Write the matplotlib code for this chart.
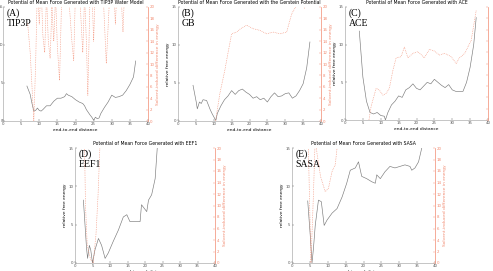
import matplotlib
matplotlib.use("Agg")
import matplotlib.pyplot as plt

# PMF curves (gray, left axis) and solvent-induced energy (red dotted, right axis)
a_x = [6.6, 7.5, 8.0, 8.5, 9.0, 9.5, 10.0, 10.5, 11.0, 12.0, 13.0, 14.0, 15.0, 16.0, 17.0, 17.5,
       18.0, 19.0, 20.0, 21.0, 22.0, 22.5, 23.0, 24.0, 24.5, 25.0, 25.5, 26.0, 26.5, 27.0, 28.0,
       29.0, 30.0, 31.0, 32.0, 33.0, 34.0, 35.0, 36.0, 36.6]
a_y = [4.6, 3.5, 2.3, 1.3, 1.4, 1.7, 1.4, 1.3, 1.5, 2.0, 2.0, 2.6, 3.0, 3.0, 3.2, 3.6,
       3.4, 3.2, 2.8, 2.5, 2.3, 2.0, 1.5, 0.8, 0.5, 0.1, 0.5, 0.3, 0.4, 1.0, 1.8,
       2.5, 3.4, 3.1, 3.2, 3.4, 4.0, 4.8, 5.8, 7.9]
a_rx = [6.8, 7.5, 8.0, 8.5, 9.0, 9.5, 10.0, 10.5, 11.0, 11.5, 12.0, 12.5, 13.0, 13.5, 14.0, 14.5,
        15.0, 15.6, 16.2, 17.0, 18.0, 19.0, 19.5, 20.0, 21.0, 22.0, 22.5, 23.0, 23.4, 24.0, 24.5,
        25.0, 25.5, 26.5, 27.5, 28.5, 29.5, 30.5, 31.0, 31.5, 32.5, 33.1, 33.6, 34.0]
a_ry = [17.1, 12, 6, 0, 10, 24, 17, 24, 15, 12, 22, 14, 11, 20, 14, 22,
        13, 7.1, 22, 24, 23, 14, 10.6, 23, 24, 12, 22, 14, 4.5, 22, 24,
        14, 24, 23, 24, 10.1, 23, 24, 17, 24, 23, 15.6, 24, 22]

b_x = [4.2, 5.1, 5.4, 6.0, 6.5, 7.0, 8.0, 9.0, 9.5, 10.3, 10.6, 11.0, 12.0, 13.0, 14.0, 15.0,
       16.0, 17.0, 18.0, 19.0, 20.0, 21.0, 22.0, 23.0, 24.0, 25.0, 26.0, 27.0, 28.0, 29.0,
       30.0, 31.0, 32.0, 33.0, 34.0, 35.0, 36.0, 36.9]
b_y = [4.7, 2.5, 1.6, 2.5, 2.3, 2.8, 2.7, 1.5, 1.0, 0.3, 0.1, 1.0, 2.0, 2.8, 3.3, 4.0,
       3.5, 4.0, 4.2, 3.8, 3.5, 3.0, 3.2, 2.8, 3.0, 2.5, 3.2, 3.7, 3.2, 3.3,
       3.6, 3.7, 3.0, 3.3, 4.0, 4.9, 7.0, 10.4]
b_rx = [10.5, 11.7, 13.1, 14.0, 15.0, 16.4, 17.5, 19.2, 21.0, 22.9, 24.8, 26.6, 28.5, 30.4,
        31.8, 33.2, 34.5, 35.5]
b_ry = [0.0, 4.8, 8.9, 12.0, 15.3, 15.6, 16.2, 16.8, 16.2, 15.9, 15.3, 15.6, 15.3, 15.6,
        18.8, 20.3, 21.0, 19.6]

c_x = [4.0, 5.0, 6.0, 7.0, 8.0, 9.0, 10.0, 11.0, 11.3, 12.0, 13.0, 14.0, 15.0, 16.0, 17.0,
       18.0, 19.0, 20.0, 21.0, 22.0, 23.0, 24.0, 25.0, 26.0, 27.0, 28.0, 29.0, 30.0, 31.0,
       32.0, 33.0, 34.0, 35.0, 36.0, 36.7]
c_y = [11.8, 5.7, 2.5, 1.0, 0.8, 1.0, 0.6, 0.5, 0.0, 1.0, 2.0, 2.5, 3.2, 3.0, 4.0,
       4.3, 4.8, 4.2, 4.0, 4.5, 5.0, 4.8, 5.4, 5.0, 4.6, 4.3, 4.7, 4.0, 3.8,
       3.8, 3.8, 5.0, 7.0, 10.0, 13.6]
c_rx = [6.7, 7.3, 8.7, 9.6, 10.6, 11.5, 12.4, 13.4, 14.3, 15.7, 16.6, 17.6, 19.0, 20.4, 22.2,
        23.6, 25.0, 26.4, 27.9, 29.7, 31.1, 32.0, 33.5, 35.3, 36.7]
c_ry = [0.0, 2.4, 5.6, 5.3, 4.4, 4.7, 5.6, 8.8, 11.0, 11.2, 12.9, 11.0, 11.8, 12.1, 11.0,
        12.5, 12.2, 11.5, 11.8, 11.2, 10.0, 11.0, 11.8, 14.1, 19.4]

d_x = [2.4, 3.3, 3.6, 4.1, 4.5, 5.0, 5.7, 6.7, 7.6, 8.6, 9.5, 10.9, 12.4, 13.8, 14.8, 15.7,
       17.6, 18.6, 19.0, 19.5, 20.5, 21.0, 21.9, 22.9, 23.5]
d_y = [8.2, 1.9, 0.6, 2.3, 1.7, 0.0, 1.7, 3.2, 2.3, 0.6, 1.3, 2.8, 4.3, 6.0, 6.3, 5.4,
       5.4, 5.4, 7.6, 7.3, 6.7, 8.2, 8.9, 11.0, 15.0]
d_rx = [2.6, 3.0, 3.5, 4.5, 5.2, 6.0, 6.6, 7.1, 7.5]
d_ry = [25.0, 10.0, 3.0, 0.5, 0.0, 5.0, 12.0, 20.0, 25.0]

e_x = [4.4, 5.1, 5.6, 6.0, 6.5, 7.4, 8.2, 9.0, 9.8, 11.2, 12.6, 14.0, 15.3, 16.3, 17.7, 18.6,
       19.5, 20.9, 22.3, 23.3, 23.7, 24.7, 26.0, 27.4, 28.8, 30.2, 31.6, 33.0, 33.5, 34.4,
       35.4, 36.3]
e_y = [8.1, 3.6, 0.0, 1.9, 4.9, 8.2, 8.0, 4.9, 5.6, 6.5, 7.1, 8.6, 10.4, 12.1, 12.4, 13.2,
       11.3, 11.0, 10.6, 10.4, 11.5, 11.0, 11.9, 12.6, 12.4, 12.6, 12.8, 12.6, 12.1, 12.4,
       13.2, 15.0]
e_rx = [4.4, 5.3, 6.0, 6.5, 7.0, 8.0, 9.3, 10.2, 11.2, 12.1, 12.6]
e_ry = [25.0, 0.0, 12.0, 22.0, 19.0, 15.0, 12.4, 13.0, 15.9, 17.1, 20.0]

panels = [
    ("(A)\nTIP3P", "Potential of Mean Force Generated with TIP3P Water Model",
     a_x, a_y, a_rx, a_ry, [3, 121, 148, 7]),
    ("(B)\nGB", "Potential of Mean Force Generated with the Gerstein Potential",
     b_x, b_y, b_rx, b_ry, [178, 121, 321, 7]),
    ("(C)\nACE", "Potential of Mean Force Generated with ACE",
     c_x, c_y, c_rx, c_ry, [345, 120, 488, 7]),
    ("(D)\nEEF1", "Potential of Mean Force Generated with EEF1",
     d_x, d_y, d_rx, d_ry, [75, 263, 215, 148]),
    ("(E)\nSASA", "Potential of Mean Force Generated with SASA",
     e_x, e_y, e_rx, e_ry, [292, 263, 435, 148]),
]

W, H = 493, 271
fig = plt.figure(figsize=(W / 100, H / 100), dpi=100)
red = "#f28a70"
gray = "#7a7a7a"

for i, (label, title, x, y, rx, ry, box) in enumerate(panels):
    x0, y0, x1, y1 = box
    ax = fig.add_axes([x0 / W, 1 - y0 / H, (x1 - x0) / W, (y0 - y1) / H])
    ax.plot(x, y, color=gray, lw=0.45)
    ax.set_xlim(0, 40)
    ax.set_ylim(0, 15)
    ax.set_xticks(range(0, 41, 5))
    ax.set_yticks([0, 5, 10, 15])
    ax.tick_params(labelsize=2.8, length=1.5, width=0.3, direction="in", pad=1, colors="#555555")
    for s in ["left", "bottom"]:
        ax.spines[s].set_linewidth(0.4)
        ax.spines[s].set_color("#999999")
    ax.spines["top"].set_visible(False)
    ax.spines["right"].set_visible(False)
    ax.set_title(title, fontsize=3.3, pad=2)
    ax.set_xlabel("end-to-end distance", fontsize=3.2, labelpad=1)
    if i > 0:
        ax.set_ylabel("relative free energy", fontsize=3.2, labelpad=1)
    else:
        # left edge of the figure: labels sit tight against the axis
        ax.tick_params(axis="y", pad=0.2, labelsize=2.5)
    ax.text(0.025, 0.985, label, transform=ax.transAxes, va="top", ha="left",
            fontsize=7, family="Liberation Serif", linespacing=1.05)

    ax2 = ax.twinx()
    ax2.plot(rx, ry, color=red, lw=0.45, ls=(0, (1.2, 1.6)))
    ax2.set_ylim(0, 20)
    ax2.set_yticks(range(0, 21, 2))
    ax2.tick_params(labelsize=2.8, length=1.5, width=0.3, direction="in", pad=1, colors=red)
    ax2.spines["right"].set_color(red)
    ax2.spines["right"].set_linewidth(0.5)
    for s in ["left", "bottom", "top"]:
        ax2.spines[s].set_visible(False)
    if i == 2:
        # right edge of the figure: the reference shows only the red ticks here
        ax2.tick_params(labelright=False)
    else:
        ax2.set_ylabel("Solvent-induced difference in energy", fontsize=3.2, color=red,
                       labelpad=1.5)

fig.savefig("out.png", dpi=100)
